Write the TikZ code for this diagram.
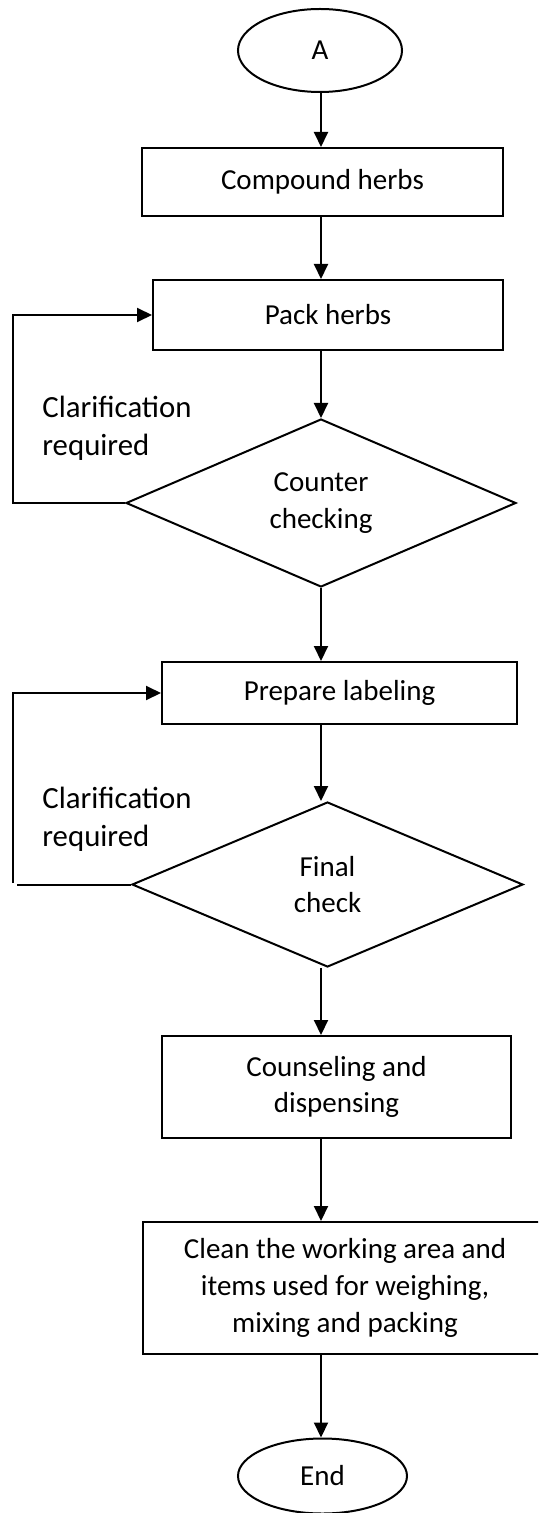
\documentclass[tikz,border=0pt]{standalone}
\usepackage{fontspec}
\setmainfont{Carlito}
\usetikzlibrary{shapes.geometric,arrows.meta}
\tikzset{
  box/.style={draw, line width=1pt, inner sep=0pt, align=center, font=\fontsize{14.5}{18.3}\selectfont},
  term/.style={box, ellipse},
  decide/.style={box, diamond, aspect=2.3},
  flow/.style={line width=1pt, -{Triangle[length=7.5pt,width=7pt]}},
  note/.style={align=left, inner sep=0pt, font=\fontsize{15.4}{19}\selectfont}
}
\begin{document}
\begin{tikzpicture}[x=0.5pt, y=-0.5pt]
\clip (0,0) rectangle (538,1513);
\coordinate (spine) at (321,0);
\coordinate (loopA) at (13,0);
\coordinate (loopB) at (13,883);
%
\node[term, minimum width=82pt, minimum height=41.5pt] (A) at (320,50.5) {A};
\node[box, minimum width=180.5pt, minimum height=34pt] (comp) at (322.5,182) {Compound herbs};
\node[box, minimum width=175pt, minimum height=35pt] (pack) at (328,315) {Pack herbs};
\node[decide, minimum width=195pt, minimum height=84pt] (chk) at (321,503) {Counter\\checking};
\node[box, minimum width=177.5pt, minimum height=31pt] (prep) at (339.5,693) {Prepare labeling};
\node[decide, minimum width=195.5pt, minimum height=82.5pt] (fin) at (327.5,884.5) {Final\\check};
\node[box, minimum width=174.5pt, minimum height=51pt] (couns) at (336.5,1087) {Counseling and\\dispensing};
\node[box, minimum width=202pt, minimum height=66pt] (clean) at (345,1288) {Clean the working area and\\items used for weighing,\\mixing and packing};
\node[term, minimum width=84.5pt, minimum height=37.5pt] (end) at (322.5,1476) {End};
%
\node[note, anchor=base west] (lab1) at (42,456) {Clarification\\required};
\node[note, anchor=base west] (lab2) at (42,846) {Clarification\\required};
%
\draw[flow] (A.south -| spine) -- (comp.north -| spine);
\draw[flow] (comp.south -| spine) -- (pack.north -| spine);
\draw[flow] (pack.south -| spine) -- (chk.north -| spine);
\draw[flow] (chk.south -| spine) -- (prep.north -| spine);
\draw[flow] (prep.south -| spine) -- (fin.north -| spine);
\draw[flow] (fin.south -| spine) -- (couns.north -| spine);
\draw[flow] (couns.south -| spine) -- (clean.north -| spine);
\draw[flow] (clean.south -| spine) -- (end.north -| spine);
%
\draw[flow] (chk.west) -- (chk.west -| loopA) |- (pack.west);
\draw[line width=1pt] (fin.west) -- ++(-114,0);
\draw[flow] (loopB) |- (prep.west);
\end{tikzpicture}
\end{document}
